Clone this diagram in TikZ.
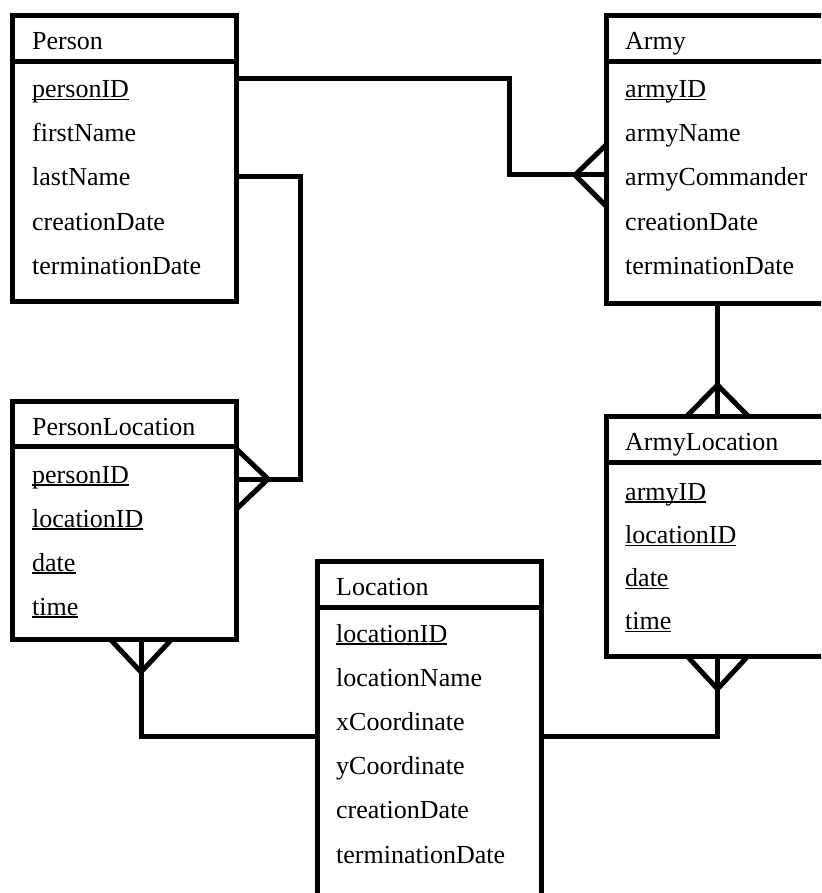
\documentclass[tikz,border=0pt]{standalone}
\usepackage{fontspec}
\setmainfont{Liberation Serif}
\usetikzlibrary{calc, positioning}
\newcommand{\keyfield}[1]{\setbox0\hbox{#1}\rlap{\rule[-2.5pt]{\wd0}{1.2pt}}\box0}
\tikzset{
    entity/.style={rectangle,draw,line width=5pt,anchor=north west,
        outer sep=0pt,inner sep=0pt,minimum width=224pt},
    textnode/.style={anchor=base west,inner sep=0pt,
        font=\fontsize{26}{30}\selectfont},
    divider/.style={line width=5pt},
    link/.style={line width=5pt}}

\begin{document}
\begin{tikzpicture}[x=1pt,y=-1pt]
\useasboundingbox (0,0) rectangle (821,893);
\clip (0,0) rectangle (821,893);

% entities
\node[entity, minimum height=285.5pt] (person) at (12.5,16) {};
\node[entity, minimum height=287pt, minimum width=223pt] (army) at (606,16) {};
\node[entity, minimum height=238pt] (ploc) at (12.5,401) {};
\node[entity, minimum height=360pt, minimum width=223.5pt] (loc) at (317.5,561) {};
\node[entity, minimum height=240pt, minimum width=223pt] (aloc) at (606,416) {};

\draw[divider] ($(person.north west)+(0,46)$) -- ($(person.north east)+(0,46)$);
\draw[divider] ($(army.north west)+(0,46)$) -- ($(army.north east)+(0,46)$);
\draw[divider] ($(ploc.north west)+(0,45)$) -- ($(ploc.north east)+(0,45)$);
\draw[divider] ($(loc.north west)+(0,46)$) -- ($(loc.north east)+(0,46)$);
\draw[divider] ($(aloc.north west)+(0,46)$) -- ($(aloc.north east)+(0,46)$);

% Person
\node[textnode] (ptitle) at (32,50) {Person};
\node[below=48pt of ptitle.base west, textnode] (pid) {\keyfield{personID}};
\node[below=44pt of pid.base west, textnode] (pfirst) {firstName};
\node[below=44pt of pfirst.base west, textnode] (plast) {lastName};
\node[below=44pt of plast.base west, textnode] (pcreate) {creationDate};
\node[below=44pt of pcreate.base west, textnode] (pterm) {terminationDate};

% Army
\node[textnode] (atitle) at (625,50) {Army};
\node[below=48pt of atitle.base west, textnode] (aid) {\keyfield{armyID}};
\node[below=44pt of aid.base west, textnode] (aname) {armyName};
\node[below=44pt of aname.base west, textnode] (acmd) {armyCommander};
\node[below=44pt of acmd.base west, textnode] (acreate) {creationDate};
\node[below=44pt of acreate.base west, textnode] (aterm) {terminationDate};

% PersonLocation
\node[textnode] (pltitle) at (32,435) {PersonLocation};
\node[below=48pt of pltitle.base west, textnode] (plpid) {\keyfield{personID}};
\node[below=44pt of plpid.base west, textnode] (pllid) {\keyfield{locationID}};
\node[below=44pt of pllid.base west, textnode] (pldate) {\keyfield{date}};
\node[below=44pt of pldate.base west, textnode] (pltime) {\keyfield{time}};

% Location
\node[textnode] (ltitle) at (336,595) {Location};
\node[below=47pt of ltitle.base west, textnode] (lid) {\keyfield{locationID}};
\node[below=44.2pt of lid.base west, textnode] (lname) {locationName};
\node[below=44.2pt of lname.base west, textnode] (lx) {xCoordinate};
\node[below=44.2pt of lx.base west, textnode] (ly) {yCoordinate};
\node[below=44.2pt of ly.base west, textnode] (lcreate) {creationDate};
\node[below=44.2pt of lcreate.base west, textnode] (lterm) {terminationDate};

% ArmyLocation
\node[textnode] (altitle) at (625,450) {ArmyLocation};
\node[below=50pt of altitle.base west, textnode] (alaid) {\keyfield{armyID}};
\node[below=43.3pt of alaid.base west, textnode] (allid) {\keyfield{locationID}};
\node[below=43.3pt of allid.base west, textnode] (aldate) {\keyfield{date}};
\node[below=43.3pt of aldate.base west, textnode] (altime) {\keyfield{time}};

% relationships
\draw[link] ($(person.north east)+(0,63)$) -| ($(army.north west)+(-97,159)$)
    -- ($(army.north west)+(0,159)$);
\draw[link] ($(army.north west)+(0,129)$) -- ++(-31,30) -- ++(31,31);

\draw[link] ($(person.north east)+(0,161)$) -| ($(ploc.north east)+(63.5,78)$)
    -- ($(ploc.north east)+(0,78)$);
\draw[link] ($(ploc.north east)+(0,48)$) -- ++(31.5,30) -- ++(-31.5,30);

\draw[link] ($(ploc.south west)+(128.5,0)$) |- ($(loc.north west)+(0,175)$);
\draw[link] ($(ploc.south west)+(97.5,0)$) -- ++(31,33) -- ++(31,-33);

\draw[link] ($(loc.north east)+(0,175)$) -| (aloc.south);
\draw[link] ($(aloc.south)+(-30.5,0)$) -- ++(30.5,33) -- ++(30.5,-33);

\draw[link] (army.south) -- (aloc.north);
\draw[link] ($(aloc.north)+(-30.5,0)$) -- ++(30.5,-31) -- ++(30.5,31);
\end{tikzpicture}
\end{document}
